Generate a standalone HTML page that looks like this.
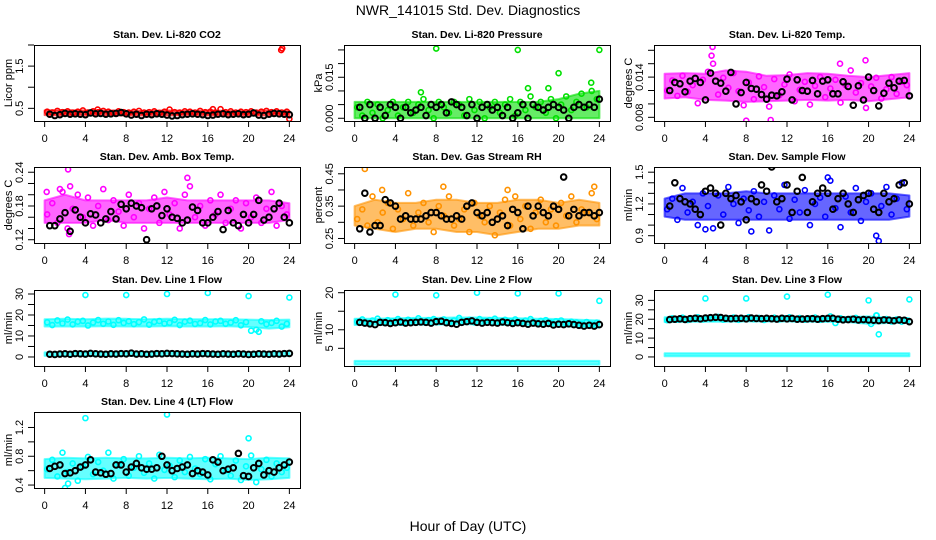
<!DOCTYPE html>
<html><head><meta charset="utf-8"><style>
html,body{margin:0;padding:0;background:#fff;}
svg{display:block;font-family:"Liberation Sans",sans-serif;}
</style></head><body>
<svg id="chart" width="936" height="540" viewBox="0 0 936 540" xmlns="http://www.w3.org/2000/svg">
<rect x="0" y="0" width="936" height="540" fill="#fff"/>
<text x="468" y="15" font-size="14" text-anchor="middle">NWR_141015  Std. Dev. Diagnostics</text>
<text x="468" y="531" font-size="14" text-anchor="middle">Hour of Day (UTC)</text>
</svg>
<script>
// ---- data (hour 0..24); band values every 2h, points every 0.5h ----
const bandHours = [0,2,4,6,8,10,12,14,16,18,20,22,24];
const xTicks = [0,4,8,12,16,20,24];

const co2Lo = [0.34,0.33,0.34,0.33,0.33,0.33,0.33,0.34,0.33,0.33,0.33,0.33,0.34];
const co2Hi = [0.45,0.46,0.45,0.45,0.44,0.44,0.45,0.44,0.45,0.44,0.44,0.45,0.44];
const co2Pts = [0.42,0.40,0.44,0.41,0.43,0.39,0.42,0.45,0.40,0.43,0.41,0.44,0.42,0.39,0.43,0.41,0.40,0.42,0.44,0.40,0.41,0.43,0.39,0.42,0.47,0.41,0.40,0.43,0.42,0.40,0.44,0.41,0.42,0.40,0.48,0.41,0.43,0.40,0.42,0.41,0.43,0.40,0.42,0.44,0.41,0.43,0.40,0.42];
const co2Blk = [0.36,0.33,0.35,0.38,0.36,0.37,0.36,0.35,0.39,0.37,0.38,0.36,0.37,0.38,0.40,0.37,0.34,0.36,0.33,0.36,0.35,0.37,0.36,0.34,0.32,0.33,0.35,0.36,0.37,0.36,0.35,0.33,0.34,0.36,0.37,0.35,0.36,0.37,0.35,0.36,0.39,0.34,0.33,0.36,0.38,0.37,0.36,0.35];
const co2OutX = [23.2,23.3,24,16.5,5.2];
const co2OutY = [1.88,1.92,0.25,0.48,0.47];
const co2TickVals = [0.5,1.0,1.5,2.0];
const co2TickLabels = ["0.5","","1.5",""];

const prLo = [0,0,0,0,0,0,0,0,0,0,0,0,0];
const prHi = [0.006,0.006,0.006,0.006,0.006,0.006,0.006,0.006,0.006,0.006,0.007,0.009,0.010];
const prPts = [0.004,0.001,0.006,0.002,0.005,0.000,0.003,0.006,0.001,0.004,0.006,0.002,0.005,0.007,0.003,0.000,0.006,0.004,0.002,0.006,0.005,0.001,0.007,0.003,0.006,0.000,0.004,0.006,0.002,0.005,0.007,0.001,0.006,0.003,0.008,0.004,0.006,0.002,0.007,0.000,0.005,0.008,0.003,0.006,0.009,0.004,0.010,0.007];
const prBlk = [0.004,0.000,0.005,0.000,0.004,0.001,0.005,0.004,0.000,0.004,0.002,0.003,0.004,0.001,0.005,0.004,0.005,0.002,0.006,0.005,0.004,0.001,0.005,0.000,0.004,0.005,0.003,0.004,0.001,0.004,0.000,0.002,0.005,0.000,0.005,0.004,0.003,0.004,0.005,0.004,0.003,0.000,0.004,0.005,0.004,0.005,0.004,0.007];
const prOutX = [8,16,24,20,6.5,17,19,23.2];
const prOutY = [0.0255,0.025,0.025,0.0165,0.0095,0.011,0.011,0.013];
const prTickVals = [0,0.005,0.010,0.015,0.020,0.025];
const prTickLabels = ["0.000","","","0.015","",""];

const tLo = [0.0108,0.0110,0.0106,0.0105,0.0103,0.0104,0.0105,0.0106,0.0105,0.0106,0.0104,0.0107,0.0110];
const tHi = [0.0145,0.0146,0.0145,0.0150,0.0148,0.0142,0.0143,0.0146,0.0145,0.0142,0.0140,0.0143,0.0146];
const tPts = [0.0120,0.0135,0.0112,0.0142,0.0118,0.0128,0.0101,0.0136,0.0148,0.0160,0.0114,0.0139,0.0124,0.0146,0.0119,0.0098,0.0132,0.0107,0.0141,0.0125,0.0096,0.0137,0.0113,0.0129,0.0144,0.0104,0.0121,0.0133,0.0099,0.0127,0.0140,0.0110,0.0123,0.0136,0.0102,0.0128,0.0150,0.0117,0.0131,0.0094,0.0126,0.0139,0.0108,0.0122,0.0140,0.0115,0.0133,0.0128];
const tBlk = [0.0120,0.0132,0.0130,0.0118,0.0134,0.0138,0.0132,0.0106,0.0146,0.0134,0.0131,0.0119,0.0147,0.0100,0.0117,0.0132,0.0123,0.0122,0.0114,0.0107,0.0113,0.0112,0.0118,0.0137,0.0106,0.0136,0.0120,0.0119,0.0135,0.0115,0.0134,0.0136,0.0115,0.0115,0.0133,0.0126,0.0098,0.0127,0.0106,0.0140,0.0120,0.0097,0.0116,0.0131,0.0124,0.0134,0.0135,0.0112];
const tOutX = [4.7,8,10.4,19.7,17.2,4.6];
const tOutY = [0.0185,0.0075,0.0076,0.0165,0.0160,0.0172];
const tTickVals = [0.008,0.010,0.012,0.014,0.016,0.018];
const tTickLabels = ["0.008","","","0.014","",""];

const aLo = [0.15,0.15,0.15,0.155,0.15,0.15,0.15,0.15,0.15,0.15,0.15,0.15,0.155];
const aHi = [0.19,0.20,0.19,0.19,0.19,0.19,0.195,0.19,0.19,0.19,0.19,0.19,0.185];
const aPts = [0.165,0.185,0.150,0.205,0.140,0.175,0.200,0.160,0.195,0.145,0.180,0.210,0.155,0.190,0.170,0.145,0.200,0.160,0.185,0.140,0.175,0.195,0.150,0.205,0.165,0.185,0.140,0.200,0.215,0.160,0.180,0.145,0.190,0.165,0.200,0.150,0.175,0.190,0.140,0.185,0.160,0.195,0.150,0.175,0.205,0.145,0.180,0.165];
const aBlk = [0.145,0.145,0.157,0.168,0.135,0.173,0.160,0.150,0.166,0.164,0.150,0.157,0.170,0.157,0.183,0.175,0.185,0.180,0.177,0.120,0.175,0.180,0.163,0.175,0.160,0.158,0.150,0.155,0.178,0.172,0.150,0.150,0.160,0.170,0.138,0.172,0.150,0.145,0.165,0.150,0.165,0.190,0.155,0.160,0.175,0.185,0.160,0.150];
const aOutX = [2.3,14,2.5,1.5,2.4,0.2];
const aOutY = [0.245,0.23,0.215,0.21,0.13,0.205];
const aTickVals = [0.12,0.14,0.16,0.18,0.20,0.22,0.24];
const aTickLabels = ["0.12","","","0.18","","","0.24"];

const rLo = [0.29,0.28,0.27,0.28,0.28,0.27,0.27,0.26,0.27,0.28,0.28,0.29,0.29];
const rHi = [0.35,0.37,0.36,0.36,0.37,0.37,0.36,0.36,0.37,0.37,0.36,0.37,0.36];
const rPts = [0.31,0.34,0.29,0.38,0.30,0.33,0.36,0.28,0.34,0.31,0.39,0.29,0.33,0.36,0.30,0.27,0.35,0.32,0.38,0.29,0.31,0.34,0.27,0.36,0.32,0.30,0.35,0.26,0.33,0.37,0.29,0.38,0.31,0.35,0.28,0.33,0.37,0.30,0.34,0.29,0.36,0.32,0.38,0.30,0.34,0.33,0.39,0.31];
const rBlk = [0.28,0.39,0.27,0.29,0.29,0.37,0.36,0.35,0.31,0.32,0.31,0.31,0.31,0.32,0.33,0.33,0.32,0.31,0.31,0.32,0.31,0.35,0.36,0.33,0.32,0.33,0.30,0.31,0.32,0.29,0.34,0.33,0.28,0.35,0.32,0.35,0.33,0.32,0.35,0.34,0.44,0.32,0.34,0.32,0.33,0.33,0.32,0.33];
const rOutX = [1,8.7,2.7,15,23.5];
const rOutY = [0.465,0.41,0.40,0.40,0.41];
const rTickVals = [0.25,0.30,0.35,0.40,0.45];
const rTickLabels = ["0.25","","0.35","","0.45"];

const sLo = [1.08,1.05,1.05,1.05,1.05,1.05,1.05,1.05,1.05,1.05,1.05,1.05,1.08];
const sHi = [1.25,1.30,1.30,1.30,1.32,1.30,1.30,1.30,1.30,1.30,1.30,1.30,1.28];
const sPts = [1.15,1.25,1.05,1.35,1.12,1.22,1.00,1.30,1.18,0.97,1.28,1.10,1.36,1.20,1.02,1.25,1.14,1.32,1.08,1.22,0.95,1.28,1.15,1.38,1.06,1.24,1.12,1.33,1.00,1.20,1.26,1.08,1.42,1.16,0.98,1.27,1.12,1.35,1.04,1.22,1.30,0.90,1.18,1.36,1.10,1.25,1.40,1.15];
const sBlk = [1.18,1.40,1.25,1.22,1.20,1.15,1.10,1.32,1.35,1.30,1.00,1.30,1.25,1.28,1.22,1.05,1.25,1.22,1.38,1.32,1.55,1.22,1.25,1.38,1.12,1.32,1.45,1.12,1.22,1.30,1.35,1.30,1.15,1.25,1.30,1.20,1.12,1.24,1.28,1.30,1.15,1.12,1.30,1.22,1.25,1.38,1.40,1.20];
const sOutX = [21,16,4,8.5];
const sOutY = [0.85,1.45,0.96,0.94];
const sTickVals = [0.9,1.0,1.1,1.2,1.3,1.4,1.5];
const sTickLabels = ["0.9","","","1.2","","","1.5"];

const l1Lo = [14.5,14.5,14.5,14.6,14.5,14.5,14.6,14.5,14.5,14.6,14.3,13.5,14.2];
const l1Hi = [18.0,18.2,18.0,18.3,18.2,18.0,18.2,18.0,18.0,18.0,17.8,17.6,17.8];
const l1Lo2 = [0.5,0.5,0.5,0.5,0.5,0.5,0.5,0.5,0.5,0.5,0.5,0.5,0.5];
const l1Hi2 = [2.2,2.2,2.2,2.2,2.2,2.2,2.2,2.2,2.2,2.2,2.2,2.2,2.2];
const l1Pts = [16.5,15.2,17.4,16.0,17.8,15.5,16.8,17.2,15.0,16.4,17.6,15.8,16.9,15.3,17.5,16.2,17.0,15.6,16.6,17.9,15.4,16.7,17.1,15.9,16.3,17.7,15.2,16.8,17.3,15.7,16.1,17.6,15.5,16.9,17.2,15.8,16.4,17.5,15.1,16.6,12.5,13.0,17.0,15.6,16.2,17.2,14.5,15.8];
const l1Blk = [1.3,1.2,1.4,1.5,1.3,1.6,1.5,1.4,1.7,1.5,1.4,1.3,1.5,1.4,1.6,1.5,1.8,1.4,1.5,1.3,1.4,1.6,1.5,1.7,1.6,1.5,1.4,1.3,1.5,1.4,1.6,1.5,1.4,1.3,1.5,1.4,1.3,1.5,1.4,1.2,1.3,1.5,1.4,1.3,1.5,1.4,1.6,1.7];
const l1OutX = [4,8,12,16,20,24,21];
const l1OutY = [29.5,29.5,30,30.5,29,28.3,12];
const l1TickVals = [0,5,10,15,20,25,30];
const l1TickLabels = ["0","","10","","20","","30"];

const l2Lo = [11.3,11.4,11.3,11.4,11.4,11.5,11.5,11.4,11.3,11.2,11.0,10.8,10.6];
const l2Hi = [13.0,13.0,13.1,13.2,13.2,13.3,13.3,13.2,13.1,13.0,12.9,12.7,12.5];
const l2Lo2 = [0.6,0.6,0.6,0.6,0.6,0.6,0.6,0.6,0.6,0.6,0.6,0.6,0.6];
const l2Hi2 = [1.6,1.6,1.6,1.6,1.6,1.6,1.6,1.6,1.6,1.6,1.6,1.6,1.6];
const l2Pts = [12.2,12.8,11.8,12.5,13.0,12.0,12.6,12.3,12.9,11.9,12.7,12.4,13.1,12.1,12.6,12.9,12.2,12.8,11.9,12.5,13.2,12.3,12.7,12.0,12.9,12.4,12.6,13.0,12.1,12.7,12.3,12.8,12.0,12.5,12.9,11.8,12.4,12.6,11.9,12.3,12.5,11.7,12.2,12.0,11.5,12.1,11.4,11.9];
const l2Blk = [12.0,11.8,11.6,11.4,12.0,11.9,11.7,11.9,12.1,11.8,11.9,12.0,12.1,12.0,11.8,12.2,12.3,11.9,11.7,11.5,12.0,12.2,12.4,12.0,11.8,12.0,11.9,11.8,12.1,11.9,11.7,11.9,11.7,11.5,11.8,11.6,11.5,11.7,11.3,11.5,11.4,11.6,11.4,11.2,11.0,11.2,11.0,11.4];
const l2OutX = [4,8,12,16,20,24];
const l2OutY = [19.5,19.3,20,19.8,19.8,17.8];
const l2TickVals = [5,10,15,20];
const l2TickLabels = ["5","10","","20"];

const l3Lo = [18.5,18.6,18.7,18.7,18.8,18.8,18.8,18.7,18.6,18.5,17.5,18.0,18.0];
const l3Hi = [21.0,21.0,21.2,21.3,21.3,21.2,21.2,21.1,21.0,21.0,21.5,20.8,20.5];
const l3Lo2 = [0.4,0.4,0.4,0.4,0.4,0.4,0.4,0.4,0.4,0.4,0.4,0.4,0.4];
const l3Hi2 = [2.0,2.0,2.0,2.0,2.0,2.0,2.0,2.0,2.0,2.0,2.0,2.0,2.0];
const l3Pts = [19.5,20.5,19.8,20.8,19.6,20.3,21.0,19.9,20.6,20.2,21.2,19.8,20.5,20.9,19.7,20.4,21.1,20.0,20.7,19.6,20.3,20.8,19.9,20.5,21.0,20.1,20.6,19.8,20.4,20.9,19.7,20.3,21.5,18.0,20.5,19.9,20.2,20.7,19.5,20.0,17.5,22.0,19.5,20.1,18.8,19.9,18.7,19.4];
const l3Blk = [19.8,20.0,20.2,19.9,20.3,20.5,20.2,20.6,20.8,21.0,20.9,20.5,20.3,20.4,20.5,20.2,20.6,20.4,20.3,20.5,20.3,20.1,20.5,20.2,20.4,20.0,20.1,20.2,20.3,20.0,20.3,20.4,20.5,20.0,19.7,19.8,20.0,19.6,19.8,19.6,19.5,19.3,19.6,19.5,19.2,19.6,19.4,18.7];
const l3OutX = [4,8,12,16,20,24,21,20.8];
const l3OutY = [31,31,32,33,30,30.5,12,22];
const l3TickVals = [0,5,10,15,20,25,30];
const l3TickLabels = ["0","","10","","20","","30"];

const l4Lo = [0.50,0.49,0.48,0.49,0.50,0.49,0.50,0.49,0.48,0.49,0.47,0.48,0.50];
const l4Hi = [0.76,0.78,0.77,0.78,0.77,0.77,0.78,0.77,0.78,0.77,0.76,0.78,0.77];
const l4Pts = [0.62,0.75,0.52,0.85,0.58,0.70,0.46,0.66,0.79,0.55,0.72,0.60,0.85,0.49,0.68,0.76,0.53,0.64,0.80,0.57,0.70,0.49,0.82,0.61,0.67,0.51,0.74,0.58,0.79,0.63,0.55,0.76,0.48,0.69,0.80,0.60,0.53,0.74,0.47,0.66,0.81,0.44,0.62,0.75,0.52,0.70,0.58,0.64];
const l4Blk = [0.63,0.66,0.68,0.56,0.57,0.60,0.65,0.68,0.75,0.58,0.57,0.55,0.56,0.68,0.68,0.58,0.65,0.70,0.64,0.62,0.62,0.64,0.80,0.68,0.60,0.63,0.65,0.68,0.56,0.60,0.58,0.54,0.75,0.72,0.60,0.62,0.64,0.84,0.53,0.52,0.64,0.70,0.54,0.60,0.58,0.64,0.68,0.72];
const l4OutX = [4,12,20,2,2.3];
const l4OutY = [1.33,1.38,1.05,0.36,0.42];
const l4TickVals = [0.4,0.6,0.8,1.0,1.2];
const l4TickLabels = ["0.4","","0.8","","1.2"];

// ---- layout ----
const svg = document.getElementById('chart');
const NS = 'http://www.w3.org/2000/svg';
const colLeft = [34, 344, 654];
const rowTop = [45, 167, 290, 412];
const boxW = 266, boxH = 76;

const panels = [
  {name:'co2', title:'Stan. Dev. Li-820 CO2', ylab:'Licor ppm', r:0,c:0, ylim:[0.2,2.0], color:'#ff0000', lo:co2Lo, hi:co2Hi, pts:co2Pts, blk:co2Blk, ox:co2OutX, oy:co2OutY, tv:co2TickVals, tl:co2TickLabels},
  {name:'pressure', title:'Stan. Dev. Li-820 Pressure', ylab:'kPa', r:0,c:1, ylim:[-0.001,0.0268], color:'#00e000', lo:prLo, hi:prHi, pts:prPts, blk:prBlk, ox:prOutX, oy:prOutY, tv:prTickVals, tl:prTickLabels},
  {name:'li820-temp', title:'Stan. Dev. Li-820 Temp.', ylab:'degrees C', r:0,c:2, ylim:[0.00745,0.01879], color:'#ff00ff', lo:tLo, hi:tHi, pts:tPts, blk:tBlk, ox:tOutX, oy:tOutY, tv:tTickVals, tl:tTickLabels},
  {name:'amb-box-temp', title:'Stan. Dev. Amb. Box Temp.', ylab:'degrees C', r:1,c:0, ylim:[0.1142,0.2493], color:'#ff00ff', lo:aLo, hi:aHi, pts:aPts, blk:aBlk, ox:aOutX, oy:aOutY, tv:aTickVals, tl:aTickLabels},
  {name:'gas-stream-rh', title:'Stan. Dev. Gas Stream RH', ylab:'percent', r:1,c:1, ylim:[0.236,0.471], color:'#ff9200', lo:rLo, hi:rHi, pts:rPts, blk:rBlk, ox:rOutX, oy:rOutY, tv:rTickVals, tl:rTickLabels},
  {name:'sample-flow', title:'Stan. Dev. Sample Flow', ylab:'ml/min', r:1,c:2, ylim:[0.831,1.549], color:'#0000ff', lo:sLo, hi:sHi, pts:sPts, blk:sBlk, ox:sOutX, oy:sOutY, tv:sTickVals, tl:sTickLabels},
  {name:'line1-flow', title:'Stan. Dev. Line 1 Flow', ylab:'ml/min', r:2,c:0, ylim:[-4.3,31.9], color:'#00ffff', lo:l1Lo, hi:l1Hi, lo2:l1Lo2, hi2:l1Hi2, pts:l1Pts, blk:l1Blk, ox:l1OutX, oy:l1OutY, tv:l1TickVals, tl:l1TickLabels},
  {name:'line2-flow', title:'Stan. Dev. Line 2 Flow', ylab:'ml/min', r:2,c:1, ylim:[0.23,20.73], color:'#00ffff', lo:l2Lo, hi:l2Hi, lo2:l2Lo2, hi2:l2Hi2, pts:l2Pts, blk:l2Blk, ox:l2OutX, oy:l2OutY, tv:l2TickVals, tl:l2TickLabels},
  {name:'line3-flow', title:'Stan. Dev. Line 3 Flow', ylab:'ml/min', r:2,c:2, ylim:[-4.8,35.5], color:'#00ffff', lo:l3Lo, hi:l3Hi, lo2:l3Lo2, hi2:l3Hi2, pts:l3Pts, blk:l3Blk, ox:l3OutX, oy:l3OutY, tv:l3TickVals, tl:l3TickLabels},
  {name:'line4-flow', title:'Stan. Dev. Line 4 (LT) Flow', ylab:'ml/min', r:3,c:0, ylim:[0.359,1.415], color:'#00ffff', lo:l4Lo, hi:l4Hi, pts:l4Pts, blk:l4Blk, ox:l4OutX, oy:l4OutY, tv:l4TickVals, tl:l4TickLabels}
];

function mk(tag, attrs, parent){
  const e = document.createElementNS(NS, tag);
  for (const k in attrs) e.setAttribute(k, attrs[k]);
  parent.appendChild(e);
  return e;
}

panels.forEach(p => {
  const L = colLeft[p.c], T = rowTop[p.r];
  const xs = h => L + boxW*(0.04 + 0.92*h/24);
  const ys = v => T + boxH*(p.ylim[1]-v)/(p.ylim[1]-p.ylim[0]);
  const g = mk('g', {}, svg);
  
  
  const clipId = 'clip-' + p.name;
  const cp = mk('clipPath', {id: clipId}, g);
  mk('rect', {x:L, y:T, width:boxW, height:boxH}, cp);
  const plot = mk('g', {'clip-path':'url(#'+clipId+')'}, g);
  
  

  const bands = [[p.lo,p.hi]];
  if (p.lo2) bands.push([p.lo2,p.hi2]);
  bands.forEach(([lo,hi]) => {
    let d = '';
    bandHours.forEach((h,i) => { d += (i?'L':'M') + xs(h).toFixed(1) + ' ' + ys(hi[i]).toFixed(1); });
    for (let i = bandHours.length-1; i >= 0; i--) d += 'L' + xs(bandHours[i]).toFixed(1) + ' ' + ys(lo[i]).toFixed(1);
    const b = mk('path', {d: d + 'Z', fill: p.color, 'fill-opacity': 0.6, stroke: p.color, 'stroke-width': 2, 'stroke-linejoin':'round', 'stroke-opacity':0.6}, plot);
    
    
  });
  p.pts.forEach((v,i) => {
    const c = mk('circle', {cx: xs(i*0.5+0.25), cy: ys(v), r: 2.5, fill:'none', stroke: p.color, 'stroke-width': 1.6}, plot);
    
    
  });
  p.ox.forEach((h,i) => {
    const c = mk('circle', {cx: xs(h), cy: ys(p.oy[i]), r: 2.5, fill:'none', stroke: p.color, 'stroke-width': 1.6}, plot);
    
    
  });
  p.blk.forEach((v,i) => {
    const c = mk('circle', {cx: xs(i*0.5+0.5), cy: ys(v), r: 2.8, fill:'none', stroke:'#000', 'stroke-width': 2}, plot);
    
    
  });

  const box = mk('rect', {x:L+0.5, y:T+0.5, width:boxW, height:boxH, fill:'none', stroke:'#000', 'stroke-width':1}, g);
  
  

  const title = mk('text', {x: L+boxW/2, y: T-7, 'font-size': 10.5, 'font-weight':'bold', 'text-anchor':'middle'}, g);
  title.textContent = p.title;
  
  

  const xa = mk('g', {}, g);
  
  
  mk('line', {x1: xs(0), x2: xs(24), y1: T+boxH+0.5, y2: T+boxH+0.5, stroke:'#000'}, xa);
  xTicks.forEach(h => {
    mk('line', {x1: xs(h), x2: xs(h), y1: T+boxH, y2: T+boxH+6, stroke:'#000'}, xa);
    const t = mk('text', {x: xs(h), y: T+boxH+21, 'font-size': 11, 'text-anchor':'middle'}, xa);
    t.textContent = String(h);
    
    
  });
  const ya = mk('g', {}, g);
  
  
  const tv0 = p.tv[0], tv1 = p.tv[p.tv.length-1];
  mk('line', {x1: L+0.5, x2: L+0.5, y1: ys(tv0), y2: ys(tv1), stroke:'#000'}, ya);
  p.tv.forEach((v,i) => {
    mk('line', {x1: L-6, x2: L, y1: ys(v), y2: ys(v), stroke:'#000'}, ya);
    if (p.tl[i]) {
      const x = L-11, y = ys(v);
      const t = mk('text', {x: x, y: y, 'font-size': 11, 'text-anchor':'middle', transform: 'rotate(-90 '+x+' '+y+')'}, ya);
      t.textContent = p.tl[i];
      
      
    }
  });
  const yx = L-22, yy = T+boxH/2;
  const yl = mk('text', {x: yx, y: yy, 'font-size': 11, 'text-anchor':'middle', transform:'rotate(-90 '+yx+' '+yy+')'}, g);
  yl.textContent = p.ylab;
  
  
});
</script>
</body></html>
